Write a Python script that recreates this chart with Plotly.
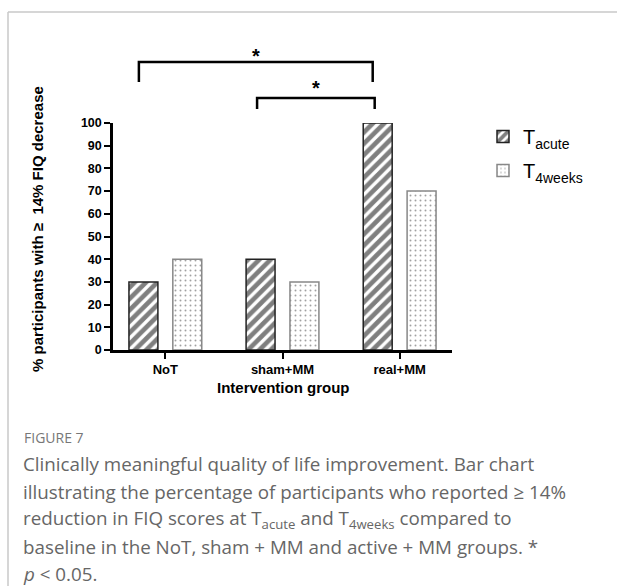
import plotly.graph_objects as go

# ---- data ----
groups = ["NoT", "sham+MM", "real+MM"]
t_acute = [30, 40, 100]
t_4weeks = [40, 30, 70]
y_ticks = [0, 10, 20, 30, 40, 50, 60, 70, 80, 90, 100]
# significance brackets: (x_left, x_right, y_top, y_bottom) in data units
brackets = [(-0.226, 1.77, 126.9, 118.1), (0.783, 1.787, 111.0, 106.2)]
stars = [(0.772, 129.5), (1.285, 115.3)]

W, H = 617, 586
L, R, T, B = 113, 452, 123, 350
Y_MAX = 100


def px(xp):
    return (xp - L) / (R - L)


def py(yp):
    return (B - yp) / (B - T)


FONT = "Arial, Liberation Sans, sans-serif"

fig = go.Figure()
fig.add_trace(go.Bar(
    x=groups, y=t_acute, name="T<sub>acute</sub>", legendgroup="a",
    marker=dict(color="white", line=dict(color="#222", width=1.5),
                pattern=dict(shape="/", fgcolor="black", bgcolor="white", size=8, solidity=0.58)),
))
fig.add_trace(go.Bar(
    x=groups, y=t_4weeks, name="T<sub>4weeks</sub>", legendgroup="b",
    marker=dict(color="white", line=dict(color="#888", width=1.5),
                pattern=dict(shape=".", fgcolor="#444", bgcolor="white", size=5, solidity=0.12)),
))

shapes = []
for (x0, x1, yt, yb) in brackets:
    shapes.append(dict(type="path", xref="x", yref="y domain",
                       path=f"M {x0},{yb / Y_MAX} L {x0},{yt / Y_MAX} L {x1},{yt / Y_MAX} L {x1},{yb / Y_MAX}",
                       line=dict(color="black", width=2.5)))
# figure frame
shapes.append(dict(type="line", xref="paper", yref="paper", x0=px(8), x1=px(617), y0=py(12), y1=py(12),
                   line=dict(color="#c8c8c8", width=1.5)))
shapes.append(dict(type="line", xref="paper", yref="paper", x0=px(8), x1=px(8), y0=py(12), y1=py(586),
                   line=dict(color="#c8c8c8", width=1.5)))

annotations = []
for (sx, sy) in stars:
    annotations.append(dict(x=sx, y=sy / Y_MAX, xref="x", yref="y domain", text="<b>*</b>", showarrow=False,
                            font=dict(family=FONT, size=20, color="black"),
                            xanchor="center", yanchor="middle"))
annotations.append(dict(x=px(37), y=py(229), xref="paper", yref="paper", textangle=-90,
                        xanchor="center", yanchor="middle",
                        text="<b>% participants with ≥  14% FIQ decrease</b>", showarrow=False,
                        font=dict(family=FONT, size=15, color="black")))
annotations.append(dict(x=px(283), y=py(387), xref="paper", yref="paper",
                        xanchor="center", yanchor="middle",
                        text="<b>Intervention group</b>", showarrow=False,
                        font=dict(family=FONT, size=15, color="black")))

CAP = "Open Sans, Noto Sans, sans-serif"
annotations.append(dict(x=px(22), y=py(437), xref="paper", yref="paper", xanchor="left", yanchor="middle",
                        text="FIGURE 7", showarrow=False, font=dict(family=CAP, size=14, color="#777")))
cap_lines = [
    "Clinically meaningful quality of life improvement. Bar chart",
    "illustrating the percentage of participants who reported ≥ 14%",
    "reduction in FIQ scores at T<sub>acute</sub> and T<sub>4weeks</sub> compared to",
    "baseline in the NoT, sham + MM and active + MM groups. *",
    "<i>p</i> &lt; 0.05.",
]
for i, line in enumerate(cap_lines):
    annotations.append(dict(x=px(21), y=py(464 + 27.6 * i), xref="paper", yref="paper",
                            xanchor="left", yanchor="middle",
                            text=line, showarrow=False, font=dict(family=CAP, size=18.8, color="#666")))

fig.update_layout(
    width=W, height=H,
    margin=dict(l=L, r=W - R, t=T, b=H - B, pad=0),
    plot_bgcolor="white", paper_bgcolor="white",
    barmode="group", bargap=0.251, bargroupgap=0.34,
    showlegend=True,
    legend=dict(x=px(483), y=py(117), xanchor="left", yanchor="top", tracegroupgap=5,
                font=dict(family=FONT, size=20, color="black"), bgcolor="rgba(0,0,0,0)"),
    shapes=shapes, annotations=annotations,
    font=dict(family=FONT),
)
fig.update_xaxes(range=[-0.447, 2.447], showline=True, linecolor="black", linewidth=2.5,
                 ticks="outside", ticklen=6, tickwidth=2, tickcolor="black",
                 tickfont=dict(family=FONT, size=13, color="black"),
                 tickvals=groups, ticktext=[f"<b>{g}</b>" for g in groups],
                 showgrid=False, zeroline=False)
fig.update_yaxes(range=[0, Y_MAX], showline=True, linecolor="black", linewidth=2.5,
                 ticks="outside", ticklen=6, tickwidth=2, tickcolor="black",
                 tickvals=y_ticks, ticktext=[f"<b>{v}</b>" for v in y_ticks],
                 tickfont=dict(family=FONT, size=12.5, color="black"),
                 showgrid=False, zeroline=False)

fig.write_html("out.html", config={"displayModeBar": False},
               post_script="document.body.style.margin='0';")
